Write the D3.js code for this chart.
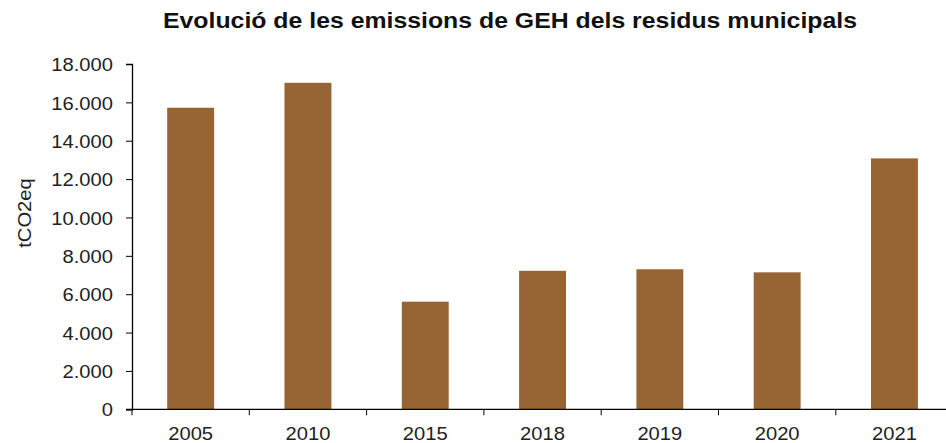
<!DOCTYPE html>
<html>
<head>
<meta charset="utf-8">
<script src="https://cdn.jsdelivr.net/npm/d3@7"></script>
<style>
  body { margin: 0; background: #fff; }
  svg { display: block; font-family: "Liberation Sans", Arial, sans-serif; }
</style>
</head>
<body>
<svg id="chart" width="946" height="443"></svg>
<script>
// data
const years = ["2005", "2010", "2015", "2018", "2019", "2020", "2021"];
const emissions = [15720, 17020, 5610, 7220, 7300, 7140, 13080];
const yTicks = [0, 2000, 4000, 6000, 8000, 10000, 12000, 14000, 16000, 18000];

const svg = d3.select("#chart");
const margin = { left: 132, top: 64 };
const plotW = 117.3 * years.length;   // runs a bit past the right edge, like the original

const x = d3.scaleBand()
  .domain(years)
  .range([margin.left, margin.left + plotW])
  .paddingInner(0.6)
  .paddingOuter(0.3);

const y = d3.scaleLinear()
  .domain([0, 18000])
  .range([409.3, margin.top]);

const fmt = d => d3.format(",")(d).replace(/,/g, ".");

// the original text is a little wider than Liberation Sans, stretch it a bit
function widen(sel, k) {
  sel.each(function () {
    const w = this.getComputedTextLength();
    d3.select(this).attr("textLength", w * k).attr("lengthAdjust", "spacingAndGlyphs");
  });
}

// bars
svg.append("g")
  .selectAll("rect")
  .data(years.map((yr, i) => ({ yr, v: emissions[i] })))
  .join("rect")
  .attr("x", d => x(d.yr))
  .attr("y", d => y(d.v))
  .attr("width", x.bandwidth())
  .attr("height", d => y(0) - y(d.v))
  .attr("fill", "#976433");

// y axis
const yAxis = svg.append("g")
  .attr("transform", `translate(${margin.left},0)`)
  .call(d3.axisLeft(y).tickValues(yTicks).tickFormat(fmt).tickSize(6).tickPadding(13));
yAxis.select(".domain").attr("stroke", "#000").attr("stroke-width", 1.3);
yAxis.selectAll("line").attr("stroke", "#000");
yAxis.selectAll("text")
  .attr("font-size", 18.5)
  .attr("dy", "0.36em")
  .attr("fill", "#222")
  .style("font-family", "Liberation Sans, Arial, sans-serif")
  .call(widen, 1.09);

// x axis: ticks sit on the category boundaries
const step = x.step();
const bounds = d3.range(years.length + 1).map(i => margin.left + i * step);
const xg = svg.append("g");
xg.append("line")
  .attr("x1", margin.left - 6).attr("x2", margin.left + plotW)
  .attr("y1", y(0)).attr("y2", y(0))
  .attr("stroke", "#000").attr("stroke-width", 1.3);
xg.selectAll("line.tick")
  .data(bounds)
  .join("line")
  .attr("class", "tick")
  .attr("x1", d => d).attr("x2", d => d)
  .attr("y1", y(0)).attr("y2", y(0) + 6)
  .attr("stroke", "#000");
xg.selectAll("text")
  .data(years)
  .join("text")
  .attr("x", d => x(d) + x.bandwidth() / 2)
  .attr("y", 440)
  .attr("text-anchor", "middle")
  .attr("font-size", 18.5)
  .attr("fill", "#222")
  .text(d => d)
  .call(widen, 1.09);

// y label
svg.append("text")
  .attr("transform", "translate(31,213) rotate(-90)")
  .attr("text-anchor", "middle")
  .attr("font-size", 18.5)
  .attr("fill", "#222")
  .text("tCO2eq")
  .call(widen, 1.09);

// title
svg.append("text")
  .attr("x", 510)
  .attr("y", 28)
  .attr("text-anchor", "middle")
  .attr("font-size", 21.5)
  .attr("font-weight", "bold")
  .attr("fill", "#111")
  .text("Evolució de les emissions de GEH dels residus municipals")
  .attr("textLength", 694)
  .attr("lengthAdjust", "spacingAndGlyphs");
</script>
</body>
</html>
